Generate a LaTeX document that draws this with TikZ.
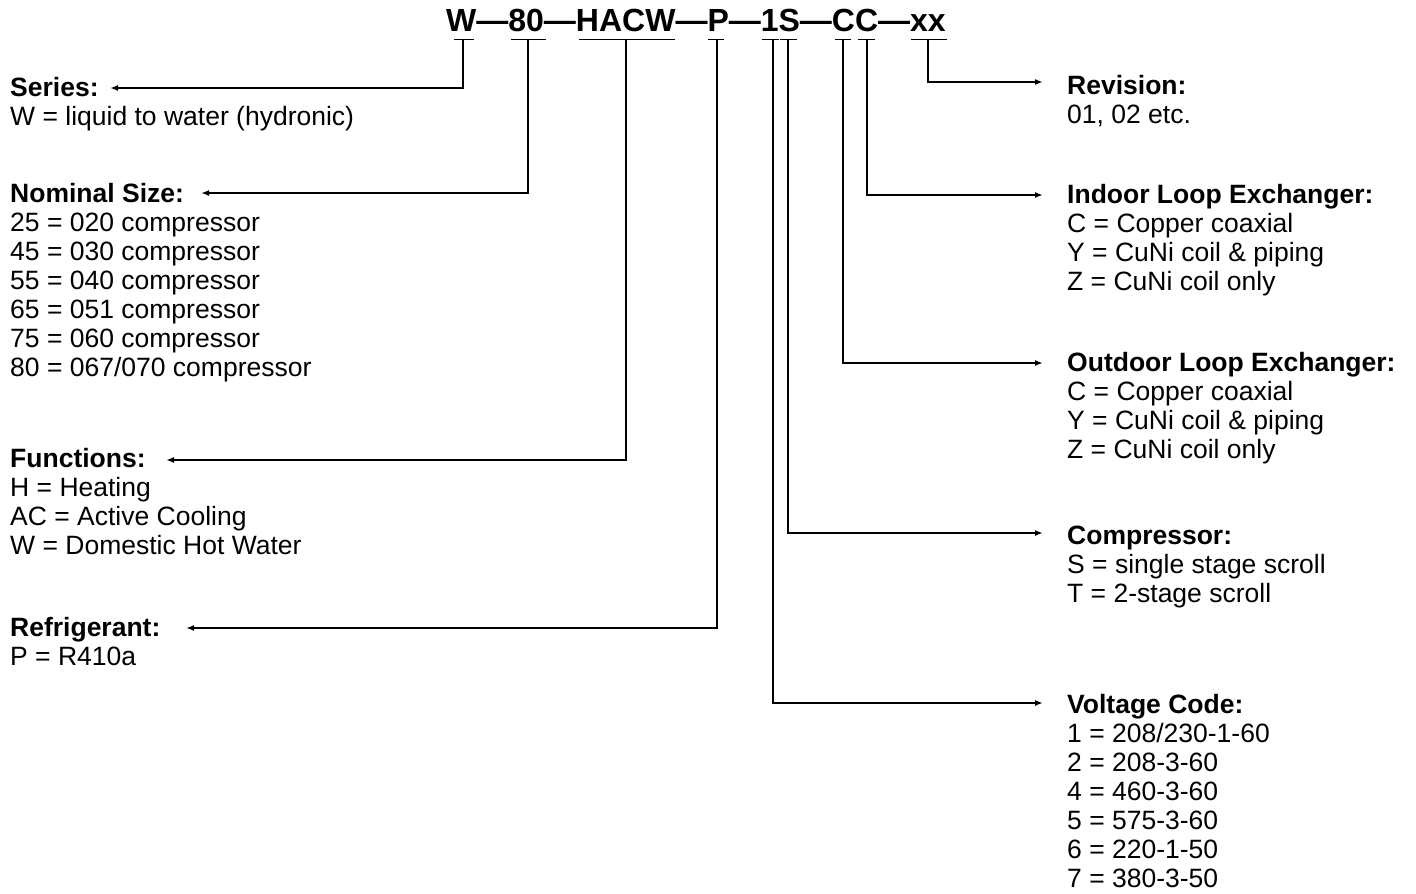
\documentclass[tikz,border=0pt]{standalone}
\usepackage{fontspec}
\setmainfont{Liberation Sans}
\usetikzlibrary{arrows.meta}
\tikzset{
  ttl/.style={font=\fontsize{26.5}{29}\selectfont\bfseries, inner sep=0pt, anchor=base west},
  body/.style={font=\fontsize{26.5}{29}\selectfont, inner sep=0pt, anchor=north west, align=left},
  bar/.style={line width=1.6pt},
  conn/.style={line width=1.6pt, -{Latex[length=8pt,width=6pt]}},
}
\begin{document}
\begin{tikzpicture}[x=1pt,y=-1pt]
\useasboundingbox (0,0) rectangle (1416,894);
% code
\node[font=\fontsize{32}{38}\selectfont\bfseries, inner sep=0pt, anchor=base west] (code) at (446,31) {W—80—HACW—P—1S—CC—xx};
% bracket bars
\draw[bar] (454,39.5) -- (474,39.5);
\draw[bar] (511,39.5) -- (546,39.5);
\draw[bar] (579,39.5) -- (675,39.5);
\draw[bar] (708,39.5) -- (724,39.5);
\draw[bar] (762,39.5) -- (779,39.5);
\draw[bar] (780,39.5) -- (797,39.5);
\draw[bar] (835,39.5) -- (851,39.5);
\draw[bar] (858,39.5) -- (875,39.5);
\draw[bar] (911,39.5) -- (947,39.5);
% stems
\coordinate (sW) at (463,39.5);
\coordinate (s80) at (528,39.5);
\coordinate (sH) at (626,39.5);
\coordinate (sP) at (717,39.5);
\coordinate (s1) at (773,39.5);
\coordinate (sS) at (788,39.5);
\coordinate (sC1) at (843,39.5);
\coordinate (sC2) at (867,39.5);
\coordinate (sX) at (928,39.5);
% left labels
\node[ttl] (serT) at (10,96.5) {Series:};
\node[body] (serB) at (10,105.2) {\strut W = liquid to water (hydronic)};
\node[ttl] (nomT) at (10,202) {Nominal Size:};
\node[body] (nomB) at (10,210.7) {\strut 25 = 020 compressor\\45 = 030 compressor\\55 = 040 compressor\\65 = 051 compressor\\75 = 060 compressor\\80 = 067/070 compressor};
\node[ttl] (funT) at (10,467) {Functions:};
\node[body] (funB) at (10,475.7) {\strut H = Heating\\AC = Active Cooling\\W = Domestic Hot Water};
\node[ttl] (refT) at (10,636) {Refrigerant:};
\node[body] (refB) at (10,644.7) {\strut P = R410a};
% right labels
\node[ttl] (revT) at (1067,94) {Revision:};
\node[body] (revB) at (1067,102.7) {\strut 01, 02 etc.};
\node[ttl] (indT) at (1067,203) {Indoor Loop Exchanger:};
\node[body] (indB) at (1067,211.7) {\strut C = Copper coaxial\\Y = CuNi coil \& piping\\Z = CuNi coil only};
\node[ttl] (outT) at (1067,371.5) {Outdoor Loop Exchanger:};
\node[body] (outB) at (1067,380.2) {\strut C = Copper coaxial\\Y = CuNi coil \& piping\\Z = CuNi coil only};
\node[ttl] (cmpT) at (1067,544) {Compressor:};
\node[body] (cmpB) at (1067,552.7) {\strut S = single stage scroll\\T = 2-stage scroll};
\node[ttl] (volT) at (1067,713) {Voltage Code:};
\node[body] (volB) at (1067,721.7) {\strut 1 = 208/230-1-60\\2 = 208-3-60\\4 = 460-3-60\\5 = 575-3-60\\6 = 220-1-50\\7 = 380-3-50};
% arrow tips
\coordinate (tSer) at (110,88);
\coordinate (tNom) at (201,193);
\coordinate (tFun) at (166,460);
\coordinate (tRef) at (186,628);
\coordinate (tRev) at (1043,82);
\coordinate (tInd) at (1043,195);
\coordinate (tOut) at (1043,363);
\coordinate (tCmp) at (1043,533);
\coordinate (tVol) at (1043,703);
% connectors
\draw[conn] (sW) |- (tSer);
\draw[conn] (s80) |- (tNom);
\draw[conn] (sH) |- (tFun);
\draw[conn] (sP) |- (tRef);
\draw[conn] (sX) |- (tRev);
\draw[conn] (sC2) |- (tInd);
\draw[conn] (sC1) |- (tOut);
\draw[conn] (sS) |- (tCmp);
\draw[conn] (s1) |- (tVol);
\end{tikzpicture}
\end{document}
